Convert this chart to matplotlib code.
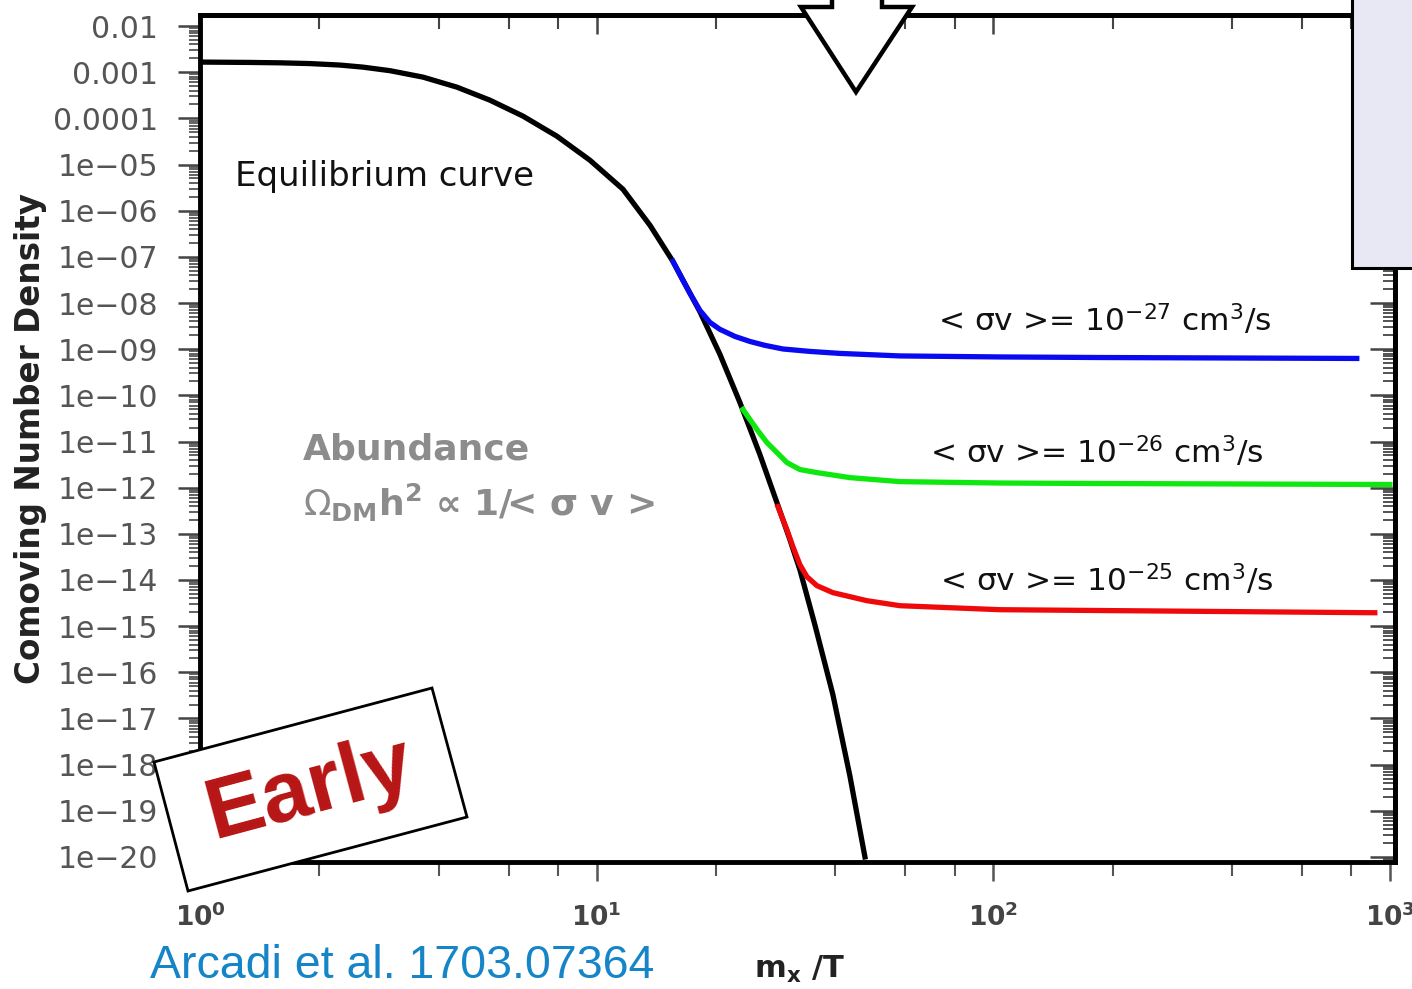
import matplotlib.pyplot as plt
import matplotlib.ticker as mticker
from matplotlib.patches import Polygon

# equilibrium curve
eq_x = [1.0, 1.337, 1.591, 1.894, 2.254, 2.576, 3.013, 3.649, 4.444, 5.383, 6.521, 7.942, 9.619, 11.65,
        13.63, 15.57, 18.21, 20.46, 22.97, 25.8, 28.48, 30.71, 32.54, 35.5, 39.42, 43.5, 47.47]
eq_y = [1.66e-3, 1.63e-3, 1.6e-3, 1.54e-3, 1.43e-3, 1.29e-3, 1.08e-3, 7.84e-4, 4.75e-4, 2.48e-4, 1.12e-4,
        4.11e-5, 1.24e-5, 2.92e-6, 4.83e-7, 8.0e-8, 6.5e-9, 7.71e-10, 7.01e-11, 5.22e-12, 4.75e-13,
        7.48e-14, 1.67e-14, 1.07e-15, 3.26e-17, 5.7e-19, 1.0e-20]

# freeze-out curves
blue_x = [15.57, 16.5, 17.19, 18.21, 19.3, 20.46, 22.32, 24.35, 26.57, 29.49, 34.49, 41.05, 58.2, 103.9,
          186, 825]
blue_y = [8.0e-8, 3.1e-8, 1.62e-8, 6.93e-9, 3.81e-9, 2.69e-9, 1.89e-9, 1.47e-9, 1.21e-9, 1.01e-9,
          8.95e-10, 8.1e-10, 7.14e-10, 6.79e-10, 6.6e-10, 6.3e-10]
green_x = [23.38, 25.36, 26.87, 28.48, 30.18, 32.54, 35.92, 43.5, 58.2, 103.9, 186, 1000]
green_y = [4.94e-11, 1.82e-11, 9.5e-12, 5.77e-12, 3.5e-12, 2.47e-12, 2.12e-12, 1.65e-12, 1.35e-12,
           1.26e-12, 1.23e-12, 1.17e-12]
red_x = [28.64, 30.18, 31.25, 32.54, 33.89, 35.92, 39.42, 43.5, 48.01, 58.2, 103.9, 916]
red_y = [3.89e-13, 1.23e-13, 5.27e-14, 2.15e-14, 1.18e-14, 7.53e-15, 5.31e-15, 4.35e-15, 3.56e-15,
         2.77e-15, 2.27e-15, 1.95e-15]

sv_labels = [r'< σv >= 10$^{\mathregular{-27}}$ cm$^{\mathregular{3}}$/s',
             r'< σv >= 10$^{\mathregular{-26}}$ cm$^{\mathregular{3}}$/s',
             r'< σv >= 10$^{\mathregular{-25}}$ cm$^{\mathregular{3}}$/s']
sv_pos = [(191, 10**-8.35), (182, 10**-11.22), (193, 10**-13.99)]

yticks = [10.0**-k for k in range(2, 21)]
ylabels = ['0.01', '0.001', '0.0001'] + ['1e\u2212%02d' % k for k in range(5, 21)]
xticks = [1, 10, 100, 1000]
xlabels = [r'$\mathbf{10^{0}}$', r'$\mathbf{10^{1}}$', r'$\mathbf{10^{2}}$', r'$\mathbf{10^{3}}$']

W, H = 1412, 989
fig = plt.figure(figsize=(W / 100, H / 100), dpi=100)
ax = fig.add_axes([200 / W, 1 - 862 / H, 1195 / W, 847 / H])

ax.plot(eq_x, eq_y, color='black', lw=3.8, zorder=3)
ax.plot(blue_x, blue_y, color='#0a0af0', lw=3.8, zorder=4)
ax.plot(green_x, green_y, color='#0ee80e', lw=3.8, zorder=4)
ax.plot(red_x, red_y, color='#ee0a0a', lw=3.8, zorder=4)

ax.set_xscale('log')
ax.set_yscale('log')
ax.set_xlim(1, 1030)
ax.set_ylim(10**-20.11, 10**-1.76)

ax.set_yticks(yticks)
ax.set_yticklabels(ylabels)
ax.yaxis.set_minor_locator(mticker.LogLocator(base=10, subs=range(2, 10), numticks=100))
ax.yaxis.set_minor_formatter(mticker.NullFormatter())
ax.set_xticks(xticks)
ax.set_xticklabels(xlabels)
ax.xaxis.set_minor_locator(mticker.LogLocator(base=10, subs=[2, 4, 6, 8], numticks=100))
ax.xaxis.set_minor_formatter(mticker.NullFormatter())

ax.tick_params(axis='y', which='major', direction='out', length=16, width=1.8, color='#444',
               labelsize=21.5, labelcolor='#555', pad=14)
ax.tick_params(axis='y', which='minor', direction='out', length=8, width=1.3, color='#555')
ax.tick_params(axis='x', which='major', direction='out', length=14, width=1.8, color='#555',
               labelsize=19, labelcolor='#444', pad=16)
ax.tick_params(axis='x', which='minor', direction='out', length=10, width=1.5, color='#555')
for s in ax.spines.values():
    s.set_linewidth(3.5)

# inward ticks on top and right
secx = ax.secondary_xaxis('top')
secx.set_xticks(xticks)
secx.xaxis.set_minor_locator(mticker.LogLocator(base=10, subs=[2, 4, 6, 8], numticks=100))
secx.tick_params(which='both', direction='in', labeltop=False, color='#444')
secx.tick_params(which='major', length=14, width=1.8)
secx.tick_params(which='minor', length=10, width=1.5)
secy = ax.secondary_yaxis('right')
secy.set_yticks(yticks)
secy.yaxis.set_minor_locator(mticker.LogLocator(base=10, subs=range(2, 10), numticks=100))
secy.tick_params(which='both', direction='in', labelright=False, color='#444')
secy.tick_params(which='major', length=18, width=1.8)
secy.tick_params(which='minor', length=9, width=1.3)
for s in list(secx.spines.values()) + list(secy.spines.values()):
    s.set_linewidth(3.5)

ax.set_ylabel('Comoving Number Density', fontsize=23.5, fontweight='bold', color='#222')
ax.yaxis.set_label_coords(-0.128, 0.5)
ax.set_xlabel(r'm$_\mathregular{x}$ /T', fontsize=22, fontweight='bold', color='#222')
ax.xaxis.set_label_coords(0.502, -0.108)

ax.text(1.225, 10**-5.25, 'Equilibrium curve', fontsize=24.5, color='#111', va='center', ha='left')
ax.text(1.82, 10**-11.17, 'Abundance', fontsize=26, color='#8c8c8c', fontweight='semibold',
        va='center', ha='left')
ax.text(1.82, 10**-12.32, r'$\Omega_{\mathregular{DM}}$h$^\mathregular{2}$ ∝ 1/< σ v >', fontsize=26,
        color='#8c8c8c', fontweight='semibold', va='center', ha='left')
for lab, (lx, ly) in zip(sv_labels, sv_pos):
    ax.text(lx, ly, lab, fontsize=22.5, color='#111', ha='center', va='center')


def fpt(x, y):
    return (x / W, 1 - y / H)


# outlined arrow at the top
arrow = Polygon([fpt(832, -20), fpt(832, 7), fpt(801, 7), fpt(856, 92), fpt(912, 7), fpt(882, 7),
                 fpt(882, -20)], closed=True, transform=fig.transFigure, fc='white', ec='black',
                lw=3.2, zorder=10, joinstyle='miter')
fig.add_artist(arrow)

# shaded box at top right
box = Polygon([fpt(1352, -20), fpt(1352, 268), fpt(1430, 268), fpt(1430, -20)], closed=True,
              transform=fig.transFigure, fc='#e8e8f4', ec='black', lw=2.2, zorder=10)
fig.add_artist(box)

# "Early" stamp
early = Polygon([fpt(154, 762), fpt(432, 688), fpt(467, 817), fpt(188, 891)], closed=True,
                transform=fig.transFigure, fc='white', ec='black', lw=2.0, zorder=10)
fig.add_artist(early)
fig.text(310 / W, 1 - 790 / H, 'Early', rotation=15, rotation_mode='anchor', ha='center', va='center',
         fontsize=62, fontweight='bold', family='Liberation Sans', color='#b71515', zorder=11)

fig.text(150 / W, 1 - 966 / H, 'Arcadi et al. 1703.07364', fontsize=33.5, family='Liberation Sans',
         color='#1585c8', ha='left', va='center')

fig.savefig('out.png', dpi=100)
